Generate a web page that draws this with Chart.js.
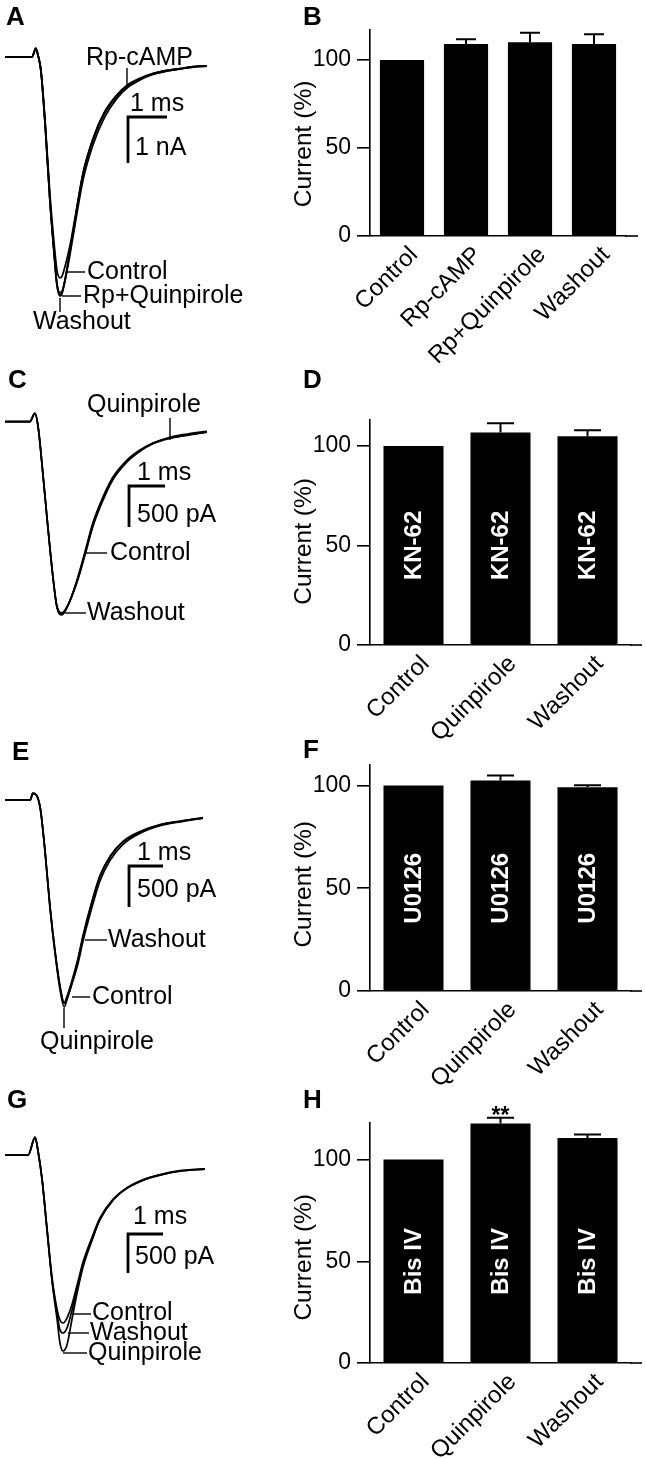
<!DOCTYPE html>
<html>
<head>
<meta charset="utf-8">
<script src="https://cdn.jsdelivr.net/npm/chart.js@4.4.1/dist/chart.umd.min.js"></script>
<style>
  body { margin: 0; background: #fff; }
  #wrap { position: relative; width: 646px; height: 1459px; overflow: hidden; }
  canvas { position: absolute; }
</style>
</head>
<body>
<div id="wrap"></div>
<script>
'use strict'

// ---- bar panels (current, % of control) ----
let catsB = ['Control', 'Rp-cAMP', 'Rp+Quinpirole', 'Washout'];
let valsB = [100, 109, 110, 109];
let errB = [0, 2.7, 5.5, 5.6];

let cats3 = ['Control', 'Quinpirole', 'Washout'];
let valsD = [100, 106.7, 104.9];
let errD = [0, 4.7, 3.0];
let valsF = [100, 102.5, 99.2];
let errF = [0, 2.4, 1.0];
let valsH = [100, 117.7, 110.6];
let errH = [0, 2.9, 1.8];

let yTicks = [0, 50, 100];

// ---- example traces ----
// A: time in ms, current in nA
let timeA = [0, 0.69, 0.79, 0.85, 0.92, 1.03, 1.15, 1.26, 1.33, 1.41, 1.46, 1.54, 1.67, 1.79, 2.00, 2.26, 2.56, 2.87, 3.15, 3.46, 3.79, 4.15, 4.49, 4.82, 5.18];
let A_control = [0, 0, 0.16, 0.02, -0.26, -1.40, -2.95, -4.05, -4.62, -4.80, -4.77, -4.55, -4.08, -3.52, -2.52, -1.76, -1.18, -0.82, -0.60, -0.46, -0.36, -0.29, -0.25, -0.21, -0.19];
let A_rpcamp = [0, 0, 0.17, 0.02, -0.30, -1.46, -3.08, -4.25, -4.90, -5.12, -5.10, -4.86, -4.28, -3.68, -2.68, -1.90, -1.30, -0.90, -0.66, -0.50, -0.38, -0.31, -0.26, -0.22, -0.20];
let A_rpquin = [0, 0, 0.18, 0.03, -0.30, -1.50, -3.12, -4.28, -4.93, -5.16, -5.12, -4.83, -4.18, -3.56, -2.54, -1.78, -1.20, -0.83, -0.61, -0.47, -0.36, -0.29, -0.25, -0.21, -0.19];
let A_washout = [0, 0, 0.20, 0.04, -0.28, -1.48, -3.11, -4.30, -4.96, -5.20, -5.15, -4.85, -4.20, -3.59, -2.57, -1.80, -1.22, -0.85, -0.63, -0.48, -0.37, -0.30, -0.26, -0.22, -0.20];

// C: time in ms, current in pA
let timeC = [0, 0.69, 0.83, 0.92, 1.06, 1.19, 1.33, 1.44, 1.58, 1.72, 2.00, 2.22, 2.44, 2.72, 3.00, 3.39, 3.75, 4.11, 4.58, 5.06, 5.61];
let C_control = [0, 0, 100, -60, -665, -1275, -1880, -2240, -2330, -2260, -1960, -1630, -1280, -960, -705, -490, -360, -270, -205, -166, -128];
let C_quin = [0, 0, 104, -62, -670, -1280, -1888, -2250, -2345, -2265, -1945, -1610, -1258, -940, -690, -478, -352, -262, -190, -150, -118];
let C_washout = [0, 0, 106, -65, -674, -1284, -1894, -2260, -2357, -2272, -1930, -1589, -1235, -918, -674, -467, -345, -260, -199, -162, -126];

// E: time in ms, current in pA
let timeE = [0, 0.74, 0.82, 1.03, 1.18, 1.32, 1.47, 1.62, 1.74, 1.82, 1.97, 2.15, 2.29, 2.50, 2.79, 3.09, 3.47, 3.97, 4.56, 5.24, 5.82];
let E_control = [0, 0, 80, -80, -630, -1280, -1830, -2270, -2470, -2400, -2200, -1925, -1660, -1320, -925, -685, -505, -385, -300, -252, -216];
let E_quin = [0, 0, 85, -85, -646, -1305, -1866, -2317, -2524, -2439, -2232, -1951, -1683, -1341, -939, -695, -512, -390, -305, -256, -220];
let E_washout = [0, 0, 82, -82, -635, -1290, -1845, -2285, -2480, -2420, -2240, -1990, -1730, -1395, -990, -735, -540, -405, -312, -260, -222];

// G: time in ms, current in pA
let timeG = [0, 0.66, 0.86, 0.94, 1.06, 1.20, 1.34, 1.49, 1.57, 1.66, 1.77, 1.91, 2.06, 2.23, 2.49, 2.71, 3.09, 3.49, 3.94, 4.43, 5.00, 5.71];
let G_control = [0, 0, 220, 58, -310, -940, -1560, -1987, -2115, -2154, -2090, -1923, -1667, -1372, -1051, -810, -565, -418, -318, -252, -200, -176];
let G_quin = [0, 0, 231, 64, -321, -962, -1603, -2115, -2410, -2513, -2436, -2115, -1769, -1436, -1090, -833, -577, -423, -321, -256, -205, -180];
let G_washout = [0, 0, 225, 60, -315, -950, -1580, -2040, -2240, -2282, -2220, -2000, -1710, -1410, -1075, -825, -575, -425, -325, -260, -208, -182];

const FONT = "'Liberation Sans', Arial, Helvetica, sans-serif";
Chart.defaults.font.family = FONT;
Chart.defaults.color = '#000';

let wrap = document.getElementById('wrap');

function makeCanvas(left, top, w, h) {
  let cv = document.createElement('canvas');
  cv.width = w;
  cv.height = h;
  cv.style.left = left + 'px';
  cv.style.top = top + 'px';
  wrap.appendChild(cv);
  return cv;
}

// trace panel: p holds layout (page px) + calibration
function tracePanel(p) {
  let W = 260;
  let cv = makeCanvas(0, p.top, W, p.height);
  let xmin = -p.x0 / p.msPx;
  let xmax = xmin + W / p.msPx;
  let ymax = (p.baseY - p.top) / p.unitPx;
  let ymin = ymax - p.height / p.unitPx;

  let datasets = p.traces.map(tr => ({
    data: p.time.map((t, i) => ({ x: t, y: tr[i] })),
    borderColor: '#000',
    borderWidth: 1.7,
    pointRadius: 0,
    fill: false,
    cubicInterpolationMode: 'monotone'
  }));

  let extras = {
    id: 'traceExtras',
    afterDraw(chart) {
      let ctx = chart.ctx;
      let xs = chart.scales.x, ys = chart.scales.y;
      ctx.save();
      ctx.strokeStyle = '#000';
      ctx.fillStyle = '#000';
      // scale bar, 1 ms by p.barAmp
      let bx = p.bar[0], by = p.bar[1] - p.top;
      let bw = xs.getPixelForValue(xmin + 1) - xs.getPixelForValue(xmin);
      let bh = ys.getPixelForValue(ymax - p.barAmp) - ys.getPixelForValue(ymax);
      ctx.lineWidth = 2.8;
      ctx.beginPath();
      ctx.moveTo(bx + bw, by);
      ctx.lineTo(bx, by);
      ctx.lineTo(bx, by + bh);
      ctx.stroke();
      // pointer lines to the labels
      ctx.lineWidth = 1.4;
      p.pointers.forEach(l => {
        ctx.beginPath();
        ctx.moveTo(l[0], l[1] - p.top);
        ctx.lineTo(l[2], l[3] - p.top);
        ctx.stroke();
      });
      ctx.font = '25px ' + FONT;
      ctx.textAlign = 'left';
      ctx.textBaseline = 'middle';
      p.labels.forEach(l => ctx.fillText(l[0], l[1], l[2] - p.top));
      ctx.font = 'bold 26px ' + FONT;
      ctx.textBaseline = 'alphabetic';
      ctx.fillText(p.letter[0], p.letter[1], p.letter[2] - p.top);
      ctx.restore();
    }
  };

  new Chart(cv, {
    type: 'line',
    data: { datasets: datasets },
    options: {
      responsive: false,
      animation: false,
      events: [],
      layout: { padding: 0 },
      plugins: { legend: { display: false }, tooltip: { enabled: false } },
      scales: {
        x: { type: 'linear', min: xmin, max: xmax, display: false },
        y: { type: 'linear', min: ymin, max: ymax, display: false }
      }
    },
    plugins: [extras]
  });
}

// bar panel
function barPanel(p) {
  let cv = makeCanvas(260, p.top, 386, p.height);

  let extras = {
    id: 'barExtras',
    afterDraw(chart) {
      let ctx = chart.ctx;
      let ys = chart.scales.y;
      let area = chart.chartArea;
      let bars = chart.getDatasetMeta(0).data;
      ctx.save();
      ctx.strokeStyle = '#000';
      ctx.fillStyle = '#000';
      // x axis runs a bit past the last bar
      ctx.lineWidth = 1.6;
      ctx.beginPath();
      ctx.moveTo(area.right - 1, area.bottom);
      ctx.lineTo(area.right + p.axisExt, area.bottom);
      ctx.stroke();
      // error bars (upper only)
      bars.forEach((b, i) => {
        if (!p.errs[i]) return;
        let top = ys.getPixelForValue(p.vals[i] + p.errs[i]);
        let cap = b.width * 0.45;
        ctx.lineWidth = 2;
        ctx.beginPath();
        ctx.moveTo(b.x, b.y);
        ctx.lineTo(b.x, top);
        ctx.moveTo(b.x - cap / 2, top);
        ctx.lineTo(b.x + cap / 2, top);
        ctx.stroke();
        if (p.stars && p.stars[i]) {
          ctx.font = 'bold 23px ' + FONT;
          ctx.textAlign = 'center';
          ctx.textBaseline = 'alphabetic';
          ctx.fillText(p.stars[i], b.x, top + 5);
        }
      });
      // drug name inside the bars
      if (p.inner) {
        ctx.fillStyle = '#fff';
        ctx.font = 'bold 24px ' + FONT;
        ctx.textAlign = 'center';
        ctx.textBaseline = 'middle';
        bars.forEach(b => {
          ctx.save();
          ctx.translate(b.x, ys.getPixelForValue(50));
          ctx.rotate(-Math.PI / 2);
          ctx.fillText(p.inner, 0, 1);
          ctx.restore();
        });
      }
      // y title
      ctx.fillStyle = '#000';
      ctx.save();
      ctx.translate(p.titleX - 260, ys.getPixelForValue(50) - 4);
      ctx.rotate(-Math.PI / 2);
      ctx.font = '24.5px ' + FONT;
      ctx.textAlign = 'center';
      ctx.textBaseline = 'middle';
      ctx.fillText('Current (%)', 0, 0);
      ctx.restore();
      // panel letter
      ctx.font = 'bold 26px ' + FONT;
      ctx.textAlign = 'left';
      ctx.textBaseline = 'alphabetic';
      ctx.fillText(p.letter[0], p.letter[1] - 260, p.letter[2] - p.top);
      ctx.restore();
    }
  };

  new Chart(cv, {
    type: 'bar',
    data: {
      labels: p.cats,
      datasets: [{
        data: p.vals,
        backgroundColor: '#000',
        borderWidth: 0,
        barPercentage: 0.69,
        categoryPercentage: 1
      }]
    },
    options: {
      responsive: false,
      animation: false,
      events: [],
      layout: { padding: { top: p.axisTop - p.top, right: p.padRight, left: 0, bottom: 0 } },
      plugins: { legend: { display: false }, tooltip: { enabled: false } },
      scales: {
        x: {
          grid: { display: false, drawTicks: false },
          border: { display: true, color: '#000', width: 1.6 },
          ticks: {
            color: '#000',
            font: { size: 24, family: FONT },
            minRotation: 45,
            maxRotation: 45,
            autoSkip: false,
            padding: 5,
            labelOffset: 12
          },
          afterFit: s => { s.height = p.top + p.height - p.zeroY; }
        },
        y: {
          min: 0,
          max: p.yMax,
          afterBuildTicks: s => { s.ticks = yTicks.map(v => ({ value: v })); },
          grid: { display: true, drawOnChartArea: false, drawTicks: true, tickLength: 13, color: '#000', lineWidth: 1.6 },
          border: { display: true, color: '#000', width: 1.6 },
          ticks: { color: '#000', font: { size: 23, family: FONT }, padding: 6 },
          afterFit: s => { s.width = 110; }
        }
      }
    },
    plugins: [extras]
  });
}

// ---- left column: traces ----
tracePanel({
  top: 0, height: 345, x0: 5, msPx: 39, unitPx: 46, baseY: 57,
  time: timeA, traces: [A_control, A_rpcamp, A_rpquin, A_washout],
  bar: [128, 117], barAmp: 1,
  pointers: [[127, 68, 127, 85], [67, 272, 85, 272], [62, 296, 81, 296], [60, 298, 60, 312]],
  labels: [['Rp-cAMP', 86, 58], ['1 ms', 130, 104], ['1 nA', 135, 148], ['Control', 87, 272], ['Rp+Quinpirole', 83, 296], ['Washout', 33, 322]],
  letter: ['A', 6, 25]
});

tracePanel({
  top: 360, height: 300, x0: 5, msPx: 36, unitPx: 41 / 500, baseY: 421.7,
  time: timeC, traces: [C_control, C_quin, C_washout],
  bar: [129, 486], barAmp: 500,
  pointers: [[170, 418, 170, 440], [85, 553, 107, 553], [65, 613, 86, 613]],
  labels: [['Quinpirole', 87, 405], ['1 ms', 137, 473], ['500 pA', 137, 515], ['Control', 110, 553], ['Washout', 87, 613]],
  letter: ['C', 8, 388]
});

tracePanel({
  top: 720, height: 340, x0: 5, msPx: 34, unitPx: 41 / 500, baseY: 800,
  time: timeE, traces: [E_control, E_quin, E_washout],
  bar: [129, 866], barAmp: 500,
  pointers: [[85, 940, 107, 940], [72, 997, 90, 997], [64, 1008, 64, 1028]],
  labels: [['1 ms', 137, 853], ['500 pA', 137, 890], ['Washout', 108, 940], ['Control', 92, 997], ['Quinpirole', 40, 1042]],
  letter: ['E', 12, 760]
});

tracePanel({
  top: 1080, height: 300, x0: 5, msPx: 35, unitPx: 39 / 500, baseY: 1155,
  time: timeG, traces: [G_control, G_quin, G_washout],
  bar: [128, 1234], barAmp: 500,
  pointers: [[72, 1314, 91, 1314], [68, 1333, 89, 1333], [63, 1353, 87, 1353]],
  labels: [['1 ms', 133, 1217], ['500 pA', 135, 1257], ['Control', 92, 1313], ['Washout', 90, 1333], ['Quinpirole', 88, 1353]],
  letter: ['G', 7, 1108]
});

// ---- right column: summary bars ----
barPanel({
  top: 0, height: 364, axisTop: 30, zeroY: 236, yMax: 117, padRight: 20, axisExt: 12,
  cats: catsB, vals: valsB, errs: errB, inner: null,
  titleX: 304, letter: ['B', 303, 25]
});

barPanel({
  top: 340, height: 410, axisTop: 420, zeroY: 645, yMax: 113, padRight: 15, axisExt: 11,
  cats: cats3, vals: valsD, errs: errD, inner: 'KN-62',
  titleX: 304, letter: ['D', 303, 388]
});

barPanel({
  top: 700, height: 400, axisTop: 765, zeroY: 991, yMax: 110, padRight: 15, axisExt: 11,
  cats: cats3, vals: valsF, errs: errF, inner: 'U0126',
  titleX: 304, letter: ['F', 303, 758]
});

barPanel({
  top: 1060, height: 399, axisTop: 1123, zeroY: 1363, yMax: 118, padRight: 15, axisExt: 11,
  cats: cats3, vals: valsH, errs: errH, inner: 'Bis IV', stars: ['', '**', ''],
  titleX: 304, letter: ['H', 303, 1108]
});
</script>
</body>
</html>
